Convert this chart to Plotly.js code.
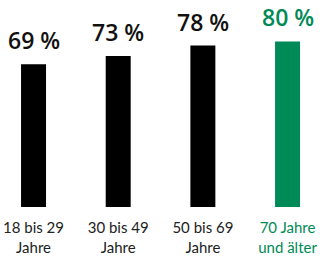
<!DOCTYPE html>
<html><head><meta charset="utf-8">
<script src="https://cdn.plot.ly/plotly-3.0.1.min.js"></script>
<style>html,body{margin:0;padding:0;background:#fff;}#c{width:322px;height:257px;}</style>
</head><body><div id="c"></div>
<script>
const categories = ["18 bis 29<br>Jahre", "30 bis 49<br>Jahre", "50 bis 69<br>Jahre", "70 Jahre<br>und älter"];
const values = [69, 73, 78, 80];
const valueLabels = ["69 %", "73 %", "78 %", "80 %"];
const colors = ["#000000", "#000000", "#000000", "#008A57"];
const idx = categories.map((_, i) => i);

const trace = {
  type: 'bar', x: idx, y: values,
  marker: {color: colors}, width: 0.295,
  hoverinfo: 'none'
};
const annotations = idx.map(i => ({
  x: i, y: values[i], xref: 'x', yref: 'y', text: valueLabels[i],
  showarrow: false, yanchor: 'bottom', yshift: 6,
  font: {family: '"Open Sans", sans-serif', size: 23, weight: 600, color: colors[i] === '#000000' ? '#111111' : colors[i]}
}));
const ticktext = categories.map((c, i) => colors[i] === '#000000' ? c : '<span style="color:' + colors[i] + '">' + c + '</span>');
Plotly.newPlot('c', [trace], {
  width: 322, height: 257,
  margin: {l: 0, r: 0, t: 0, b: 50},
  paper_bgcolor: '#fff', plot_bgcolor: '#fff',
  showlegend: false,
  xaxis: {range: [-0.396, 3.407], tickvals: idx, ticktext: ticktext, showgrid: false, zeroline: false, showline: false, ticks: '',
          ticklabelstandoff: 10,
          tickfont: {family: 'Lato, sans-serif', size: 15, color: '#222'}},
  yaxis: {range: [0, 100], visible: false, showgrid: false, zeroline: false},
  annotations: annotations
}, {staticPlot: true, displayModeBar: false});
</script></body></html>
